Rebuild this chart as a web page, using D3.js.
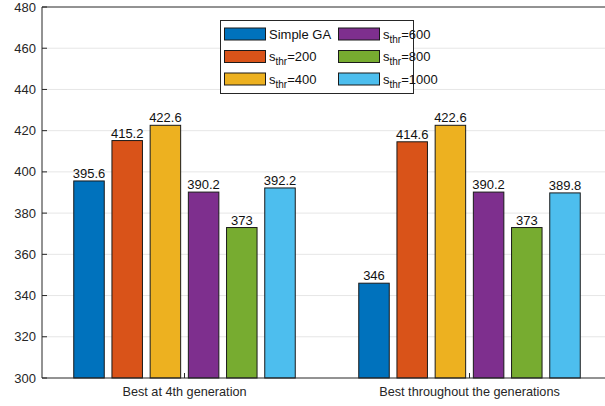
<!DOCTYPE html>
<html><head><meta charset="utf-8">
<script src="https://cdn.jsdelivr.net/npm/d3@7"></script>
<style>body{margin:0;background:#fff}svg{display:block;font-family:"Liberation Sans",Arial,sans-serif}</style>
</head><body><svg id="c" width="605" height="406"></svg>
<script>
const categories = ["Best at 4th generation", "Best throughout the generations"];
const seriesNames = ["Simple GA", "200", "400", "600", "800", "1000"];
const simpleGA = [395.6, 346];
const s200 = [415.2, 414.6];
const s400 = [422.6, 422.6];
const s600 = [390.2, 390.2];
const s800 = [373, 373];
const s1000 = [392.2, 389.8];
const yTicks = [300, 320, 340, 360, 380, 400, 420, 440, 460, 480];
const colors = ["#0072BD", "#D95319", "#EDB120", "#7E2F8E", "#77AC30", "#4DBEEE"];
const series = [simpleGA, s200, s400, s600, s800, s1000];

const svg = d3.select("#c");
const L = 42, R = 612, T = 7, B = 378;
const x = d3.scaleLinear().domain([0.5, 2.5]).range([L, R]);
const y = d3.scaleLinear().domain([300, 480]).range([B, T]);
const step = 38.2, bw = 30.5;

// grid
svg.append("g").selectAll("line").data(yTicks.slice(1, -1)).join("line")
  .attr("x1", L).attr("x2", R).attr("y1", d => y(d)).attr("y2", d => y(d))
  .attr("stroke", "#e6e6e6").attr("stroke-width", 1);

// bars
series.forEach((vals, si) => {
  const g = svg.append("g");
  vals.forEach((v, ci) => {
    const cx = x(ci + 1) + (si - 2.5) * step;
    g.append("rect").attr("x", cx - bw / 2).attr("y", y(v)).attr("width", bw).attr("height", y(300) - y(v))
      .attr("fill", colors[si]).attr("stroke", "#1a1a1a").attr("stroke-width", 1);
    g.append("text").attr("x", cx).attr("y", y(v) - 3).attr("text-anchor", "middle")
      .attr("font-size", 13).attr("fill", "#111").text(v);
  });
});

// axes lines
const ax = svg.append("g").attr("stroke", "#262626").attr("fill", "none");
ax.append("line").attr("x1", L).attr("x2", R).attr("y1", B).attr("y2", B);
ax.append("line").attr("x1", L).attr("x2", R).attr("y1", T).attr("y2", T);
ax.append("line").attr("x1", L).attr("x2", L).attr("y1", T).attr("y2", B);
yTicks.forEach(t => {
  ax.append("line").attr("x1", L).attr("x2", L + 5).attr("y1", y(t)).attr("y2", y(t));
  svg.append("text").attr("x", L - 6).attr("y", y(t)).attr("dy", "0.35em").attr("text-anchor", "end")
    .attr("font-size", 13).attr("fill", "#262626").text(t);
});
categories.forEach((c, i) => {
  ax.append("line").attr("x1", x(i + 1)).attr("x2", x(i + 1)).attr("y1", B).attr("y2", B - 5);
  svg.append("text").attr("x", x(i + 1)).attr("y", B + 18).attr("text-anchor", "middle")
    .attr("font-size", 12.7).attr("fill", "#262626").text(c);
});

// legend
const lg = svg.append("g");
lg.append("rect").attr("x", 220.5).attr("y", 20.5).attr("width", 193).attr("height", 73)
  .attr("fill", "#fff").attr("stroke", "#262626");
seriesNames.forEach((n, i) => {
  const col = Math.floor(i / 3), row = i % 3;
  const sx = 224 + col * 114, cy = 34 + row * 22.5;
  lg.append("rect").attr("x", sx + 0.5).attr("y", cy - 6).attr("width", 41).attr("height", 12)
    .attr("fill", colors[i]).attr("stroke", "#1a1a1a");
  const t = lg.append("text").attr("x", sx + 45).attr("y", cy).attr("dy", "0.35em")
    .attr("font-size", 13).attr("fill", "#111");
  if (i === 0) t.text(n);
  else {
    t.append("tspan").text("s");
    t.append("tspan").attr("font-size", 10).attr("dy", 4).text("thr");
    t.append("tspan").attr("dy", -4).text("=" + n);
  }
});
</script></body></html>
